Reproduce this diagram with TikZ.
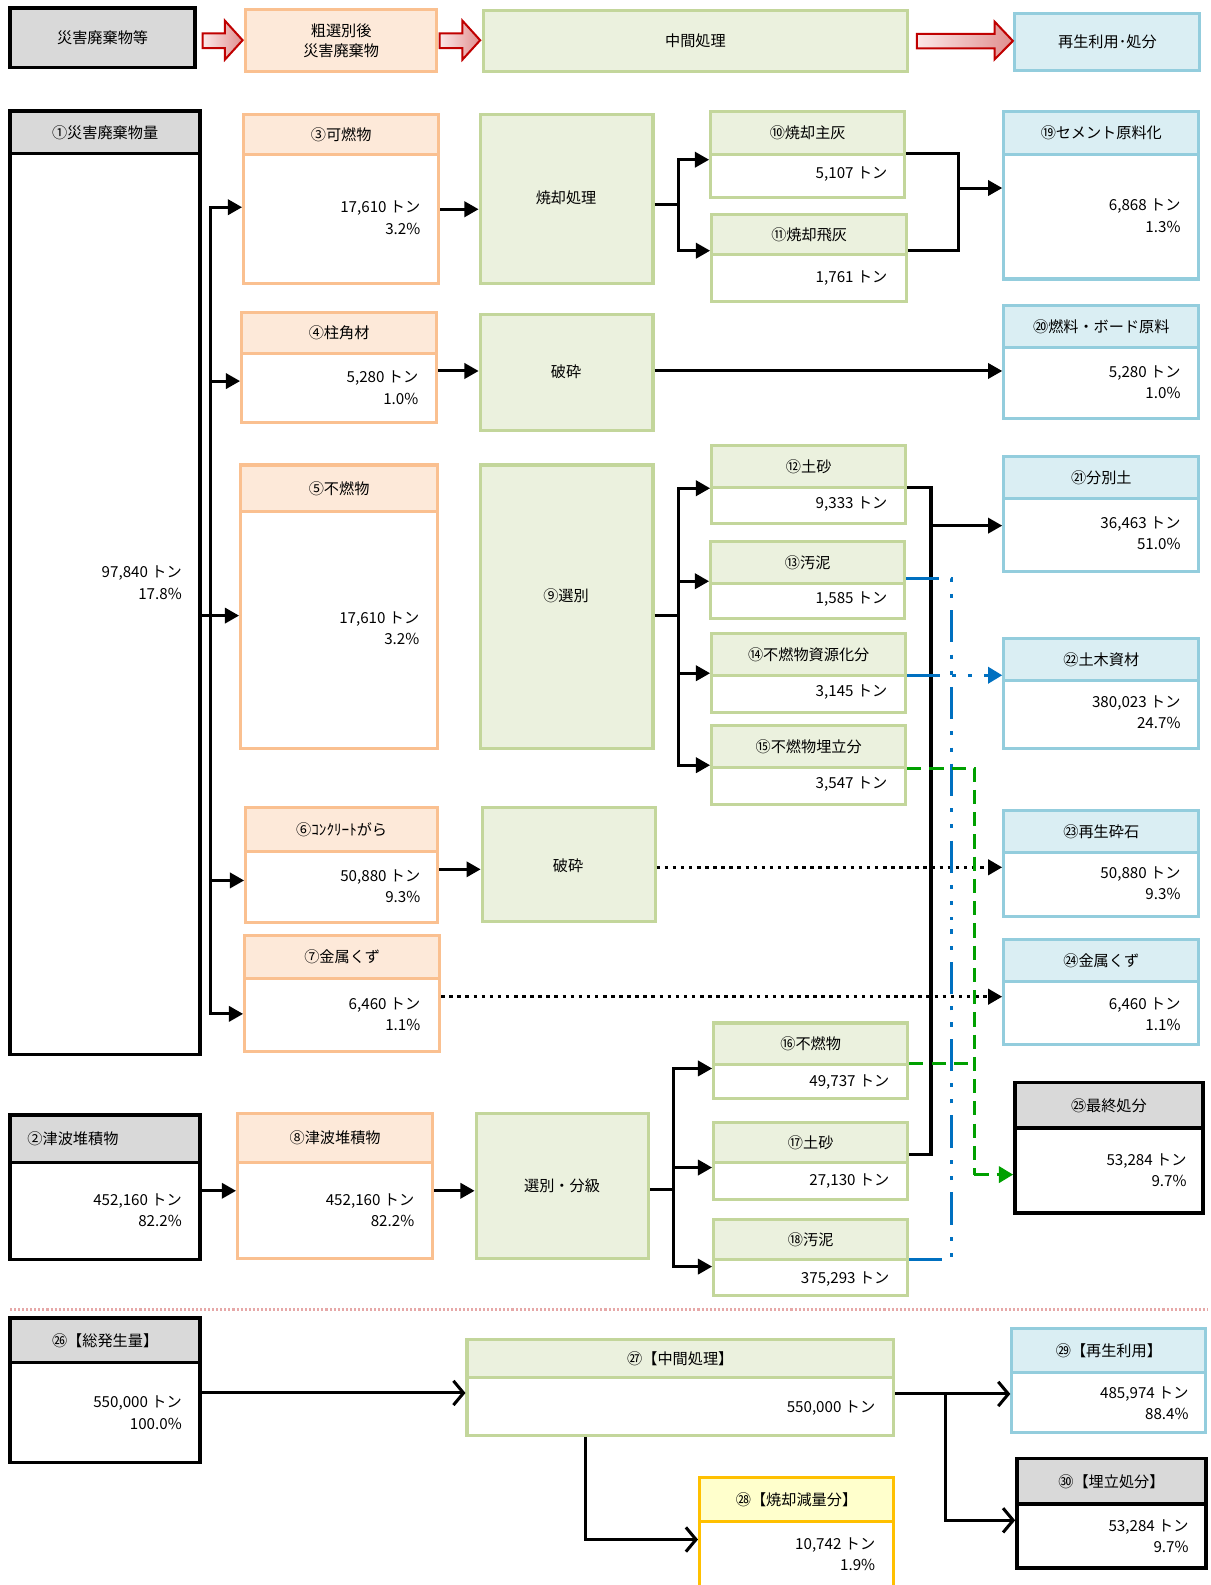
\documentclass[tikz,border=0pt]{standalone}
\usepackage{fontspec}
\setmainfont{Noto Sans CJK JP}
\usetikzlibrary{arrows.meta,fit}
\definecolor{gryF}{HTML}{D9D9D9}
\definecolor{orF}{HTML}{FDE9D9}
\definecolor{orL}{HTML}{FAC090}
\definecolor{grF}{HTML}{EBF1DE}
\definecolor{grL}{HTML}{C3D69B}
\definecolor{blF}{HTML}{DAEEF3}
\definecolor{blL}{HTML}{93CDDD}
\definecolor{ylF}{HTML}{FFFFCC}
\definecolor{ylL}{HTML}{FFC000}
\definecolor{bluel}{HTML}{0070C0}
\definecolor{greenl}{HTML}{00A000}
\definecolor{pinkl}{HTML}{E6A8A8}
\definecolor{redA}{HTML}{C00000}
\definecolor{redL}{HTML}{FBE8E8}
\definecolor{redR}{HTML}{E08F8F}
\newcommand\mkbox[8]{%
  \node[fit={(#3,#4)(#6,#5)}, #2H] (#1h) {};
  \node[fit={(#3,#5)(#6,#7)}, #2B] (#1) {};
  \node[hd] (#1l) at (#1h.center) {#8};}
\begin{document}
\begin{tikzpicture}[x=1pt,y=-1pt,
  every node/.style={font=\fontsize{15}{21}\selectfont},
  boxb/.style={inner sep=0, line width=3},
  gryH/.style={boxb, fill=gryF, draw=black, line width=3.5},
  gryB/.style={boxb, fill=white, draw=black, line width=3.5},
  orH/.style={boxb, fill=orF, draw=orL},
  orB/.style={boxb, fill=white, draw=orL},
  grH/.style={boxb, fill=grF, draw=grL},
  grB/.style={boxb, fill=white, draw=grL},
  blH/.style={boxb, fill=blF, draw=blL},
  blB/.style={boxb, fill=white, draw=blL},
  ylH/.style={boxb, fill=ylF, draw=ylL},
  ylB/.style={boxb, fill=white, draw=ylL},
  proc/.style={boxb, fill=grF, draw=grL},
  hd/.style={inner sep=0},
  num/.style={inner sep=0, align=right, anchor=east},
  ln/.style={line width=3, black},
  arr/.style={ln, -{Triangle[length=14pt, width=15pt]}},
  oarr/.style={ln, -{Straight Barb[length=10pt, width=24pt]}},
  dotl/.style={line width=3.5, black, dash pattern=on 3.5pt off 4.5pt, -{Triangle[length=14pt, width=15pt]}},
  bll/.style={line width=3, bluel, dash pattern=on 32pt off 12pt on 4pt off 12pt on 4pt off 12pt},
  gnl/.style={line width=3, greenl, dash pattern=on 14pt off 8pt},
  blkarrow/.style={draw=redA, line width=2, line join=miter, left color=redL, right color=redR}
]
\useasboundingbox (0,0) rectangle (1198,1568);

% legend
\node[fit={(10,8)(193,67)}, gryH] (L1) {};
\node[hd] (L1t) at (L1.center) {災害廃棄物等};
\node[fit={(243,9)(432,71)}, orH] (L2) {};
\node[hd, align=center, font=\fontsize{15}{20}\selectfont] (L2t) at (L2.center) {粗選別後\\災害廃棄物};
\node[fit={(478,10)(898,71)}, grH] (L3) {};
\node[hd] (L3t) at (L3.center) {中間処理};
\node[fit={(1004,13)(1187,70)}, blH] (L4) {};
\node[hd] (L4t) at (L4.center) {再生利用･処分};
\shade[blkarrow] (200.5,33) -- (222.5,33) -- (222.5,20.5) -- (240,39.8) -- (222.5,59) -- (222.5,47.5) -- (200.5,47.5) -- cycle;
\shade[blkarrow] (435,33) -- (457.5,33) -- (457.5,20.5) -- (475,39.8) -- (457.5,59) -- (457.5,47.5) -- (435,47.5) -- cycle;
\shade[blkarrow] (907,33.5) -- (984,33.5) -- (984,21.5) -- (1002,40.5) -- (984,58.7) -- (984,47.8) -- (907,47.8) -- cycle;

% left column
\mkbox{n1}{gry}{10}{110}{152}{198}{1043}{①災害廃棄物量}
\node[num] (n1t) at (180,576.5) {97,840 トン\\17.8\%};
\node[fit={(10,1103)(198,1150)}, gryH] (n2h) {};
\node[fit={(10,1150)(198,1246)}, gryB] (n2) {};
\node[hd, anchor=west] (n2l) at (27,1127) {②津波堆積物};
\node[num] (n2t) at (180,1197.5) {452,160 トン\\82.2\%};
\mkbox{n3}{or}{241}{113}{153}{434}{280}{③可燃物}
\node[num] (n3t) at (416,215.5) {17,610 トン\\3.2\%};
\mkbox{n4}{or}{239}{309}{350}{432}{418}{④柱角材}
\node[num] (n4t) at (414,383.5) {5,280 トン\\1.0\%};
\mkbox{n5}{or}{238}{460}{506}{433}{740}{⑤不燃物}
\node[num] (n5t) at (415,621.5) {17,610 トン\\3.2\%};
\mkbox{n6}{or}{243}{799}{842}{433}{913}{⑥ｺﾝｸﾘｰﾄがら}
\node[num] (n6t) at (416,877) {50,880 トン\\9.3\%};
\mkbox{n7}{or}{242}{925}{968}{435}{1040}{⑦金属くず}
\node[num] (n7t) at (416,1003) {6,460 トン\\1.1\%};
\mkbox{n8}{or}{235}{1102}{1150}{428}{1245}{⑧津波堆積物}
\node[num] (n8t) at (410,1197.5) {452,160 トン\\82.2\%};

% processes
\node[fit={(475,113)(646,280)}, proc] (p1) {};
\node[hd] (p1t) at (560,196) {焼却処理};
\node[fit={(475,311)(646,426)}, proc] (p2) {};
\node[hd] (p2t) at (560,368) {破砕};
\node[fit={(475,460)(646,740)}, proc] (p3) {};
\node[hd] (p3t) at (560,589) {⑨選別};
\node[fit={(477,799)(648,912)}, proc] (p4) {};
\node[hd] (p4t) at (562,856) {破砕};
\node[fit={(471,1102)(642,1245)}, proc] (p5) {};
\node[hd] (p5t) at (556,1173) {選別・分級};

% intermediate outputs
\mkbox{n10}{gr}{703}{110}{153}{895}{195}{⑩焼却主灰}
\node[num] (n10t) at (878,172) {5,107 トン};
\mkbox{n11}{gr}{704}{212}{252}{897}{298}{⑪焼却飛灰}
\node[num] (n11t) at (878,275) {1,761 トン};
\mkbox{n12}{gr}{704}{441}{482}{896}{518}{⑫土砂}
\node[num] (n12t) at (878,499) {9,333 トン};
\mkbox{n13}{gr}{703}{536}{577}{895}{612}{⑬汚泥}
\node[num] (n13t) at (878,593) {1,585 トン};
\mkbox{n14}{gr}{704}{627}{668}{896}{705}{⑭不燃物資源化分}
\node[num] (n14t) at (878,685) {3,145 トン};
\mkbox{n15}{gr}{704}{718}{759}{896}{796}{⑮不燃物埋立分}
\node[num] (n15t) at (878,776) {3,547 トン};
\mkbox{n16}{gr}{706}{1012}{1053}{898}{1087}{⑯不燃物}
\node[num] (n16t) at (880,1070) {49,737 トン};
\mkbox{n17}{gr}{706}{1110}{1150}{898}{1187}{⑰土砂}
\node[num] (n17t) at (880,1168) {27,130 トン};
\mkbox{n18}{gr}{706}{1206}{1246}{898}{1282}{⑱汚泥}
\node[num] (n18t) at (880,1265) {375,293 トン};

% destinations
\mkbox{n19}{bl}{993}{110}{153}{1186}{276}{⑲セメント原料化}
\node[num] (n19t) at (1168,213.5) {6,868 トン\\1.3\%};
\mkbox{n20}{bl}{993}{302}{344}{1186}{414}{⑳燃料・ボード原料}
\node[num] (n20t) at (1168,378.5) {5,280 トン\\1.0\%};
\mkbox{n21}{bl}{993}{452}{493}{1186}{565}{㉑分別土}
\node[num] (n21t) at (1168,527.5) {36,463 トン\\51.0\%};
\mkbox{n22}{bl}{993}{632}{673}{1186}{740}{㉒土木資材}
\node[num] (n22t) at (1168,704.5) {380,023 トン\\24.7\%};
\mkbox{n23}{bl}{993}{802}{843}{1186}{907}{㉓再生砕石}
\node[num] (n23t) at (1168,873.5) {50,880 トン\\9.3\%};
\mkbox{n24}{bl}{993}{929}{971}{1186}{1033}{㉔金属くず}
\node[num] (n24t) at (1168,1003) {6,460 トン\\1.1\%};
\mkbox{n25}{gry}{1004}{1071}{1116}{1190}{1200}{㉕最終処分}
\node[num] (n25t) at (1174,1157.5) {53,284 トン\\9.7\%};

% connectors main
\coordinate (T) at (208,609);
\draw[arr] (n1.east |- 0,609) -- (n5.west |- 0,609);
\draw[arr] (T) |- (n3.west |- 0,205);
\draw[arr] (T) |- (n4.west |- 0,377);
\draw[arr] (T) |- (n6.west |- 0,871);
\draw[arr] (T) |- (n7.west |- 0,1003);
\draw[arr] (n3.east |- 0,207) -- (p1.west |- 0,207);
\draw[arr] (n4.east |- 0,367) -- (p2.west |- 0,367);
\draw[arr] (n6.east |- 0,860) -- (p4.west |- 0,860);
\draw[arr] (n2.east |- 0,1178) -- (n8.west |- 0,1178);
\draw[arr] (n8.east |- 0,1178) -- (p5.west |- 0,1178);

\coordinate (F1) at (671,202);
\draw[ln] (p1.east |- F1) -- (F1);
\draw[arr] (F1) |- (n10.west |- 0,158);
\draw[arr] (F1) |- (n11.west |- 0,248);
\coordinate (M1) at (948,186);
\draw[ln] (n10.east |- 0,152) -| (M1) |- (n11.east |- 0,248);
\draw[arr] (M1) -- (n19.west |- M1);
\draw[arr] (p2.east |- 0,367) -- (n20.west |- 0,367);

\coordinate (F2) at (671,609);
\draw[ln] (p3.east |- F2) -- (F2);
\draw[arr] (F2) |- (n12.west |- 0,483);
\draw[arr] (F2) |- (n13.west |- 0,575);
\draw[arr] (F2) |- (n14.west |- 0,666);
\draw[arr] (F2) |- (n15.west |- 0,757);

\coordinate (F3) at (666,1177);
\draw[ln] (p5.east |- F3) -- (F3);
\draw[arr] (F3) |- (n16.west |- 0,1057);
\draw[arr] (F3) |- (n17.west |- 0,1155);
\draw[arr] (F3) |- (n18.west |- 0,1253);

\coordinate (S) at (921,520);
\draw[ln] (n12.east |- 0,482) -| (921,1142) -- (n17.east |- 0,1142);
\draw[arr] (S) -- (n21.west |- S);

\draw[dotl] (p4.east |- 0,858) -- (n23.west |- 0,858);
\draw[dotl] (n7.east |- 0,986) -- (n24.west |- 0,986);

\coordinate (BM) at (941,910);
\draw[bll] (n13.east |- 0,572) -| (BM);
\draw[bll] (n18.east |- 0,1246) -| (BM);
\draw[bll, -{Triangle[length=14pt, width=16pt]}] (n14.east |- 0,668) -- (n22.west |- 0,668);

\coordinate (G) at (964,1162);
\draw[gnl] (n15.east |- 0,760) -| (G);
\draw[gnl] (n16.east |- 0,1052) -- (964,1052);
\draw[gnl, -{Triangle[length=14pt, width=16pt]}] (G) -- (n25.west |- G);

% separator
\draw[pinkl, line width=3, dash pattern=on 2pt off 2pt] (10,1295) -- (1195,1295);

% bottom summary
\mkbox{n26}{gry}{10}{1304}{1348}{198}{1447}{㉖【総発生量】}
\node[num] (n26t) at (180,1397.5) {550,000 トン\\100.0\%};
\mkbox{n27}{gr}{462}{1325}{1363}{884}{1420}{㉗【中間処理】}
\node[num] (n27t) at (866,1393) {550,000 トン};
\mkbox{n28}{yl}{692}{1462}{1505}{884}{1590}{㉘【焼却減量分】}
\node[num] (n28t) at (866,1537.5) {10,742 トン\\1.9\%};
\mkbox{n29}{bl}{1001}{1314}{1358}{1193}{1417}{㉙【再生利用】}
\node[num] (n29t) at (1176,1388.5) {485,974 トン\\88.4\%};
\mkbox{n30}{gry}{1006}{1443}{1488}{1193}{1551}{㉚【埋立処分】}
\node[num] (n30t) at (1176,1519.5) {53,284 トン\\9.7\%};

\draw[oarr] (n26.east |- 0,1378) -- (n27.west |- 0,1378);
\coordinate (B) at (935,1379);
\draw[ln] (n27.east |- B) -- (B);
\draw[oarr] (B) -- (n29.west |- B);
\draw[oarr] (B) |- (n30.west |- 0,1504);
\draw[oarr] (n27.south -| 579,0) |- (n28.west |- 0,1523);
\end{tikzpicture}
\end{document}
